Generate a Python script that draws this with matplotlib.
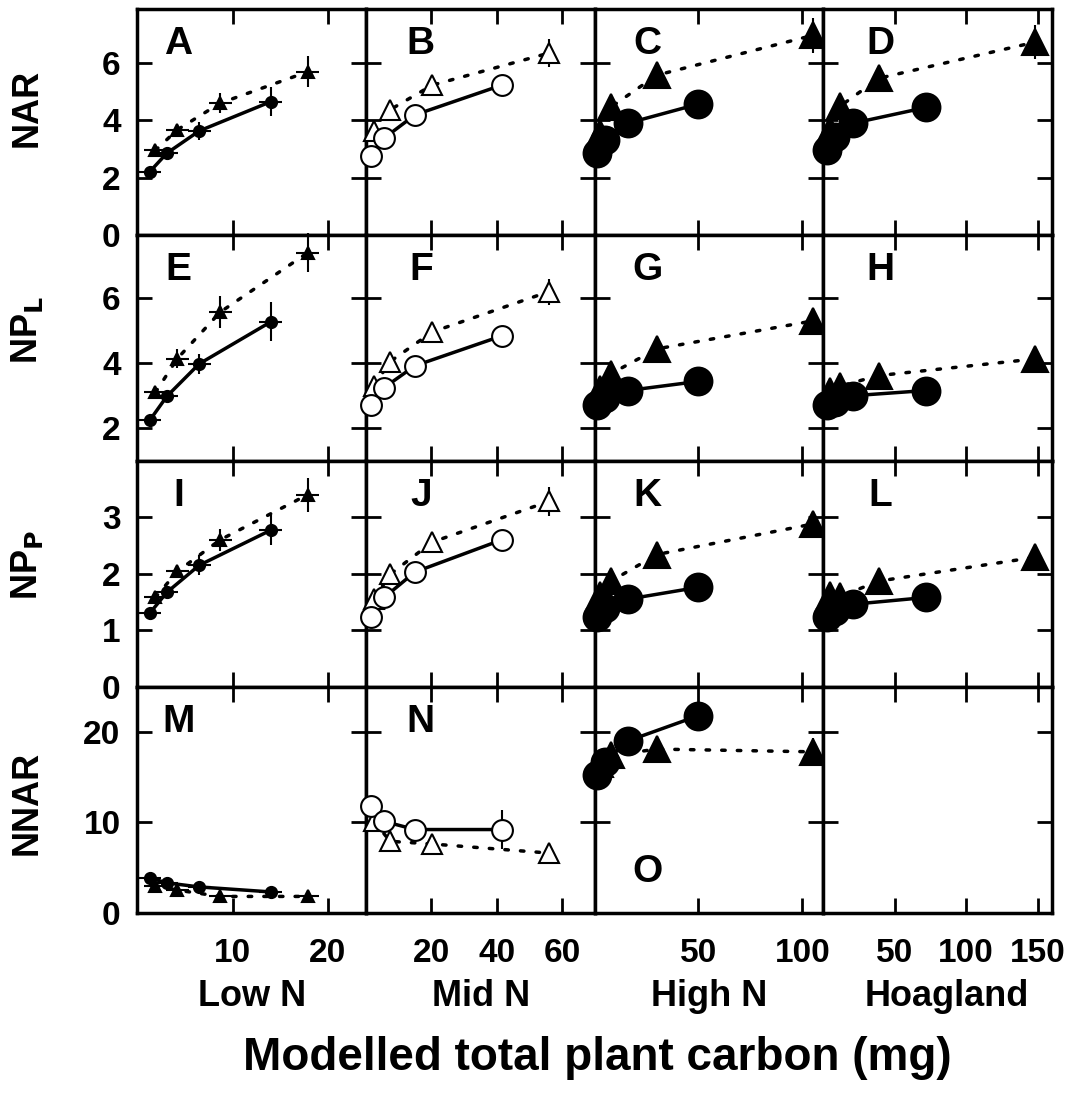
import numpy as np
import matplotlib
matplotlib.use("Agg")
import matplotlib.pyplot as plt

plt.rcParams['font.family'] = ['Liberation Sans', 'DejaVu Sans']
plt.rcParams['font.weight'] = 'bold'
plt.rcParams['mathtext.default'] = 'bf'

columns = ["Low N", "Mid N", "High N", "Hoagland"]
rows = ["NAR", "NP$_\\mathbf{L}$", "NP$_\\mathbf{P}$", "NNAR"]
letters = [["A", "B", "C", "D"],
           ["E", "F", "G", "H"],
           ["I", "J", "K", "L"],
           ["M", "N", "O", ""]]

# modelled total plant carbon (mg), circles (solid) and triangles (dotted)
x_circ = [[1.3, 3.1, 6.5, 14.0],
          [1.6, 5.6, 15.0, 41.6],
          [1.0, 5.0, 16.0, 50.0],
          [3.0, 8.0, 21.0, 72.0]]
x_tri = [[1.9, 4.2, 8.7, 17.9],
         [2.5, 7.4, 20.3, 56.0],
         [2.5, 8.0, 30.0, 105.0],
         [5.0, 12.0, 39.0, 148.0]]

# NAR
nar_circ = [[2.2, 2.85, 3.63, 4.65],
            [2.74, 3.38, 4.19, 5.23],
            [2.87, 3.32, 3.9, 4.57],
            [2.97, 3.4, 3.9, 4.45]]
nar_tri = [[2.95, 3.67, 4.6, 5.7],
           [3.61, 4.37, 5.23, 6.35],
           [3.56, 4.47, 5.58, 6.97],
           [3.67, 4.5, 5.47, 6.73]]
nar_circ_err = [[0.15, 0.15, 0.3, 0.5], [0.1, 0.1, 0.1, 0.15], [0.1, 0.1, 0.1, 0.15], [0.1, 0.1, 0.1, 0.4]]
nar_tri_err = [[0.15, 0.2, 0.35, 0.55], [0.1, 0.1, 0.3, 0.5], [0.1, 0.1, 0.2, 0.6], [0.1, 0.1, 0.4, 0.6]]

# NP_L
npl_circ = [[2.24, 2.98, 3.98, 5.27],
            [2.7, 3.25, 3.92, 4.84],
            [2.7, 2.92, 3.16, 3.44],
            [2.7, 2.82, 3.0, 3.16]]
npl_tri = [[3.1, 4.14, 5.57, 7.4],
           [3.31, 4.05, 4.96, 6.2],
           [3.22, 3.68, 4.44, 5.3],
           [3.16, 3.3, 3.62, 4.13]]
npl_circ_err = [[0.15, 0.2, 0.3, 0.6], [0.1, 0.1, 0.1, 0.1], [0.1, 0.1, 0.1, 0.1], [0.1, 0.1, 0.1, 0.1]]
npl_tri_err = [[0.15, 0.3, 0.5, 0.6], [0.1, 0.1, 0.3, 0.4], [0.1, 0.1, 0.1, 0.3], [0.1, 0.1, 0.1, 0.1]]

# NP_P
npp_circ = [[1.3, 1.67, 2.15, 2.77],
            [1.23, 1.58, 2.03, 2.6],
            [1.23, 1.4, 1.55, 1.76],
            [1.23, 1.34, 1.46, 1.58]]
npp_tri = [[1.58, 2.04, 2.6, 3.4],
           [1.55, 1.99, 2.56, 3.28],
           [1.63, 1.87, 2.34, 2.88],
           [1.63, 1.6, 1.87, 2.29]]
npp_circ_err = [[0.05, 0.08, 0.18, 0.27], [0.05, 0.05, 0.05, 0.05], [0.05, 0.05, 0.05, 0.05], [0.05, 0.05, 0.05, 0.05]]
npp_tri_err = [[0.05, 0.1, 0.2, 0.3], [0.05, 0.05, 0.17, 0.25], [0.05, 0.05, 0.05, 0.2], [0.05, 0.05, 0.05, 0.1]]

# NNAR (no Hoagland data)
nnar_circ = [[3.85, 3.3, 2.85, 2.3],
             [11.8, 10.1, 9.2, 9.2],
             [15.2, 16.7, 19.0, 21.8],
             None]
nnar_tri = [[3.0, 2.5, 1.8, 1.8],
            [10.1, 7.9, 7.6, 6.6],
            [16.5, 17.4, 18.1, 17.8],
            None]
nnar_circ_err = [[0.3, 0.3, 0.3, 0.3], [0.8, 0.5, 0.8, 2.2], [0.5, 0.5, 0.5, 1.5], None]
nnar_tri_err = [[0.3, 0.3, 0.3, 0.3], [0.5, 0.5, 0.5, 0.5], [0.5, 0.5, 1.5, 1.5], None]

row_circ = [nar_circ, npl_circ, npp_circ, nnar_circ]
row_tri = [nar_tri, npl_tri, npp_tri, nnar_tri]
row_circ_err = [nar_circ_err, npl_circ_err, npp_circ_err, nnar_circ_err]
row_tri_err = [nar_tri_err, npl_tri_err, npp_tri_err, nnar_tri_err]

xlims = [(0, 24), (0, 70), (0, 110), (0, 160)]
xticks = [[10, 20], [20, 40, 60], [50, 100], [50, 100, 150]]
ylims = [(0, 7.9), (1, 7.95), (0, 4.0), (0, 25)]
yticks = [[0, 2, 4, 6], [2, 4, 6], [0, 1, 2, 3], [0, 10, 20]]

# marker look per column
circ_size = [8, 15, 20, 20]
tri_size = [8, 15, 19, 19]
filled = [True, False, True, True]
xerr_col = [1.2, 0, 0, 0]

letter_x = [0.18, 0.24, 0.23, 0.25]

fig, axes = plt.subplots(4, 4, figsize=(10.81, 10.97), dpi=100)
fig.subplots_adjust(left=0.127, right=0.973, top=0.992, bottom=0.168, wspace=0, hspace=0)

for r in range(4):
    for c in range(4):
        ax = axes[r, c]
        ax.set_xlim(*xlims[c])
        ax.set_ylim(*ylims[r])
        ax.set_xticks(xticks[c])
        ax.set_yticks(yticks[r])
        ax.tick_params(direction='in', top=True, right=True, length=11, width=2,
                       labelsize=24, pad=12)
        ax.tick_params(axis='x', pad=18)
        for sp in ax.spines.values():
            sp.set_linewidth(2.5)
        if r < 3:
            ax.set_xticklabels([])
        if c > 0:
            ax.set_yticklabels([])

        yc = row_circ[r][c]
        yt = row_tri[r][c]
        if yc is not None:
            face = 'black' if filled[c] else 'white'
            ax.errorbar(x_tri[c], yt, yerr=row_tri_err[r][c],
                        xerr=xerr_col[c] if xerr_col[c] else None,
                        fmt='^', ms=tri_size[c], mfc=face, mec='black', mew=1.5,
                        ecolor='black', elinewidth=1.5, capsize=0, zorder=3, clip_on=False)
            ax.plot(x_tri[c], yt, color='black', lw=2.5, ls=(0, (1, 3.5)),
                    dash_capstyle='round', zorder=2)
            ax.errorbar(x_circ[c], yc, yerr=row_circ_err[r][c],
                        xerr=xerr_col[c] if xerr_col[c] else None,
                        fmt='o', ms=circ_size[c], mfc=face, mec='black', mew=1.5,
                        ecolor='black', elinewidth=1.5, capsize=0, zorder=4, clip_on=False)
            ax.plot(x_circ[c], yc, color='black', lw=2.5, ls='-', zorder=2)

        lab = letters[r][c]
        if lab == "O":
            ax.text(letter_x[c], 0.18, lab, transform=ax.transAxes, fontsize=28,
                    fontweight='bold', ha='center', va='center')
        elif lab:
            ax.text(letter_x[c], 0.845, lab, transform=ax.transAxes, fontsize=28,
                    fontweight='bold', ha='center', va='center')

row_label_y = [108, 330, 565, 803]
for r in range(4):
    fig.text(27 / 1081, 1 - row_label_y[r] / 1097, rows[r], rotation=90,
             fontsize=26, fontweight='bold', ha='center', va='center')

col_centers = [252, 481, 709, 947]
for c in range(4):
    fig.text(col_centers[c] / 1081, 1 - 997 / 1097, columns[c], fontsize=26,
             fontweight='bold', ha='center', va='center')

fig.text(0.553, 1 - 1058 / 1097, "Modelled total plant carbon (mg)", fontsize=33,
         fontweight='bold', ha='center', va='center')

fig.savefig("out.png", dpi=100)
